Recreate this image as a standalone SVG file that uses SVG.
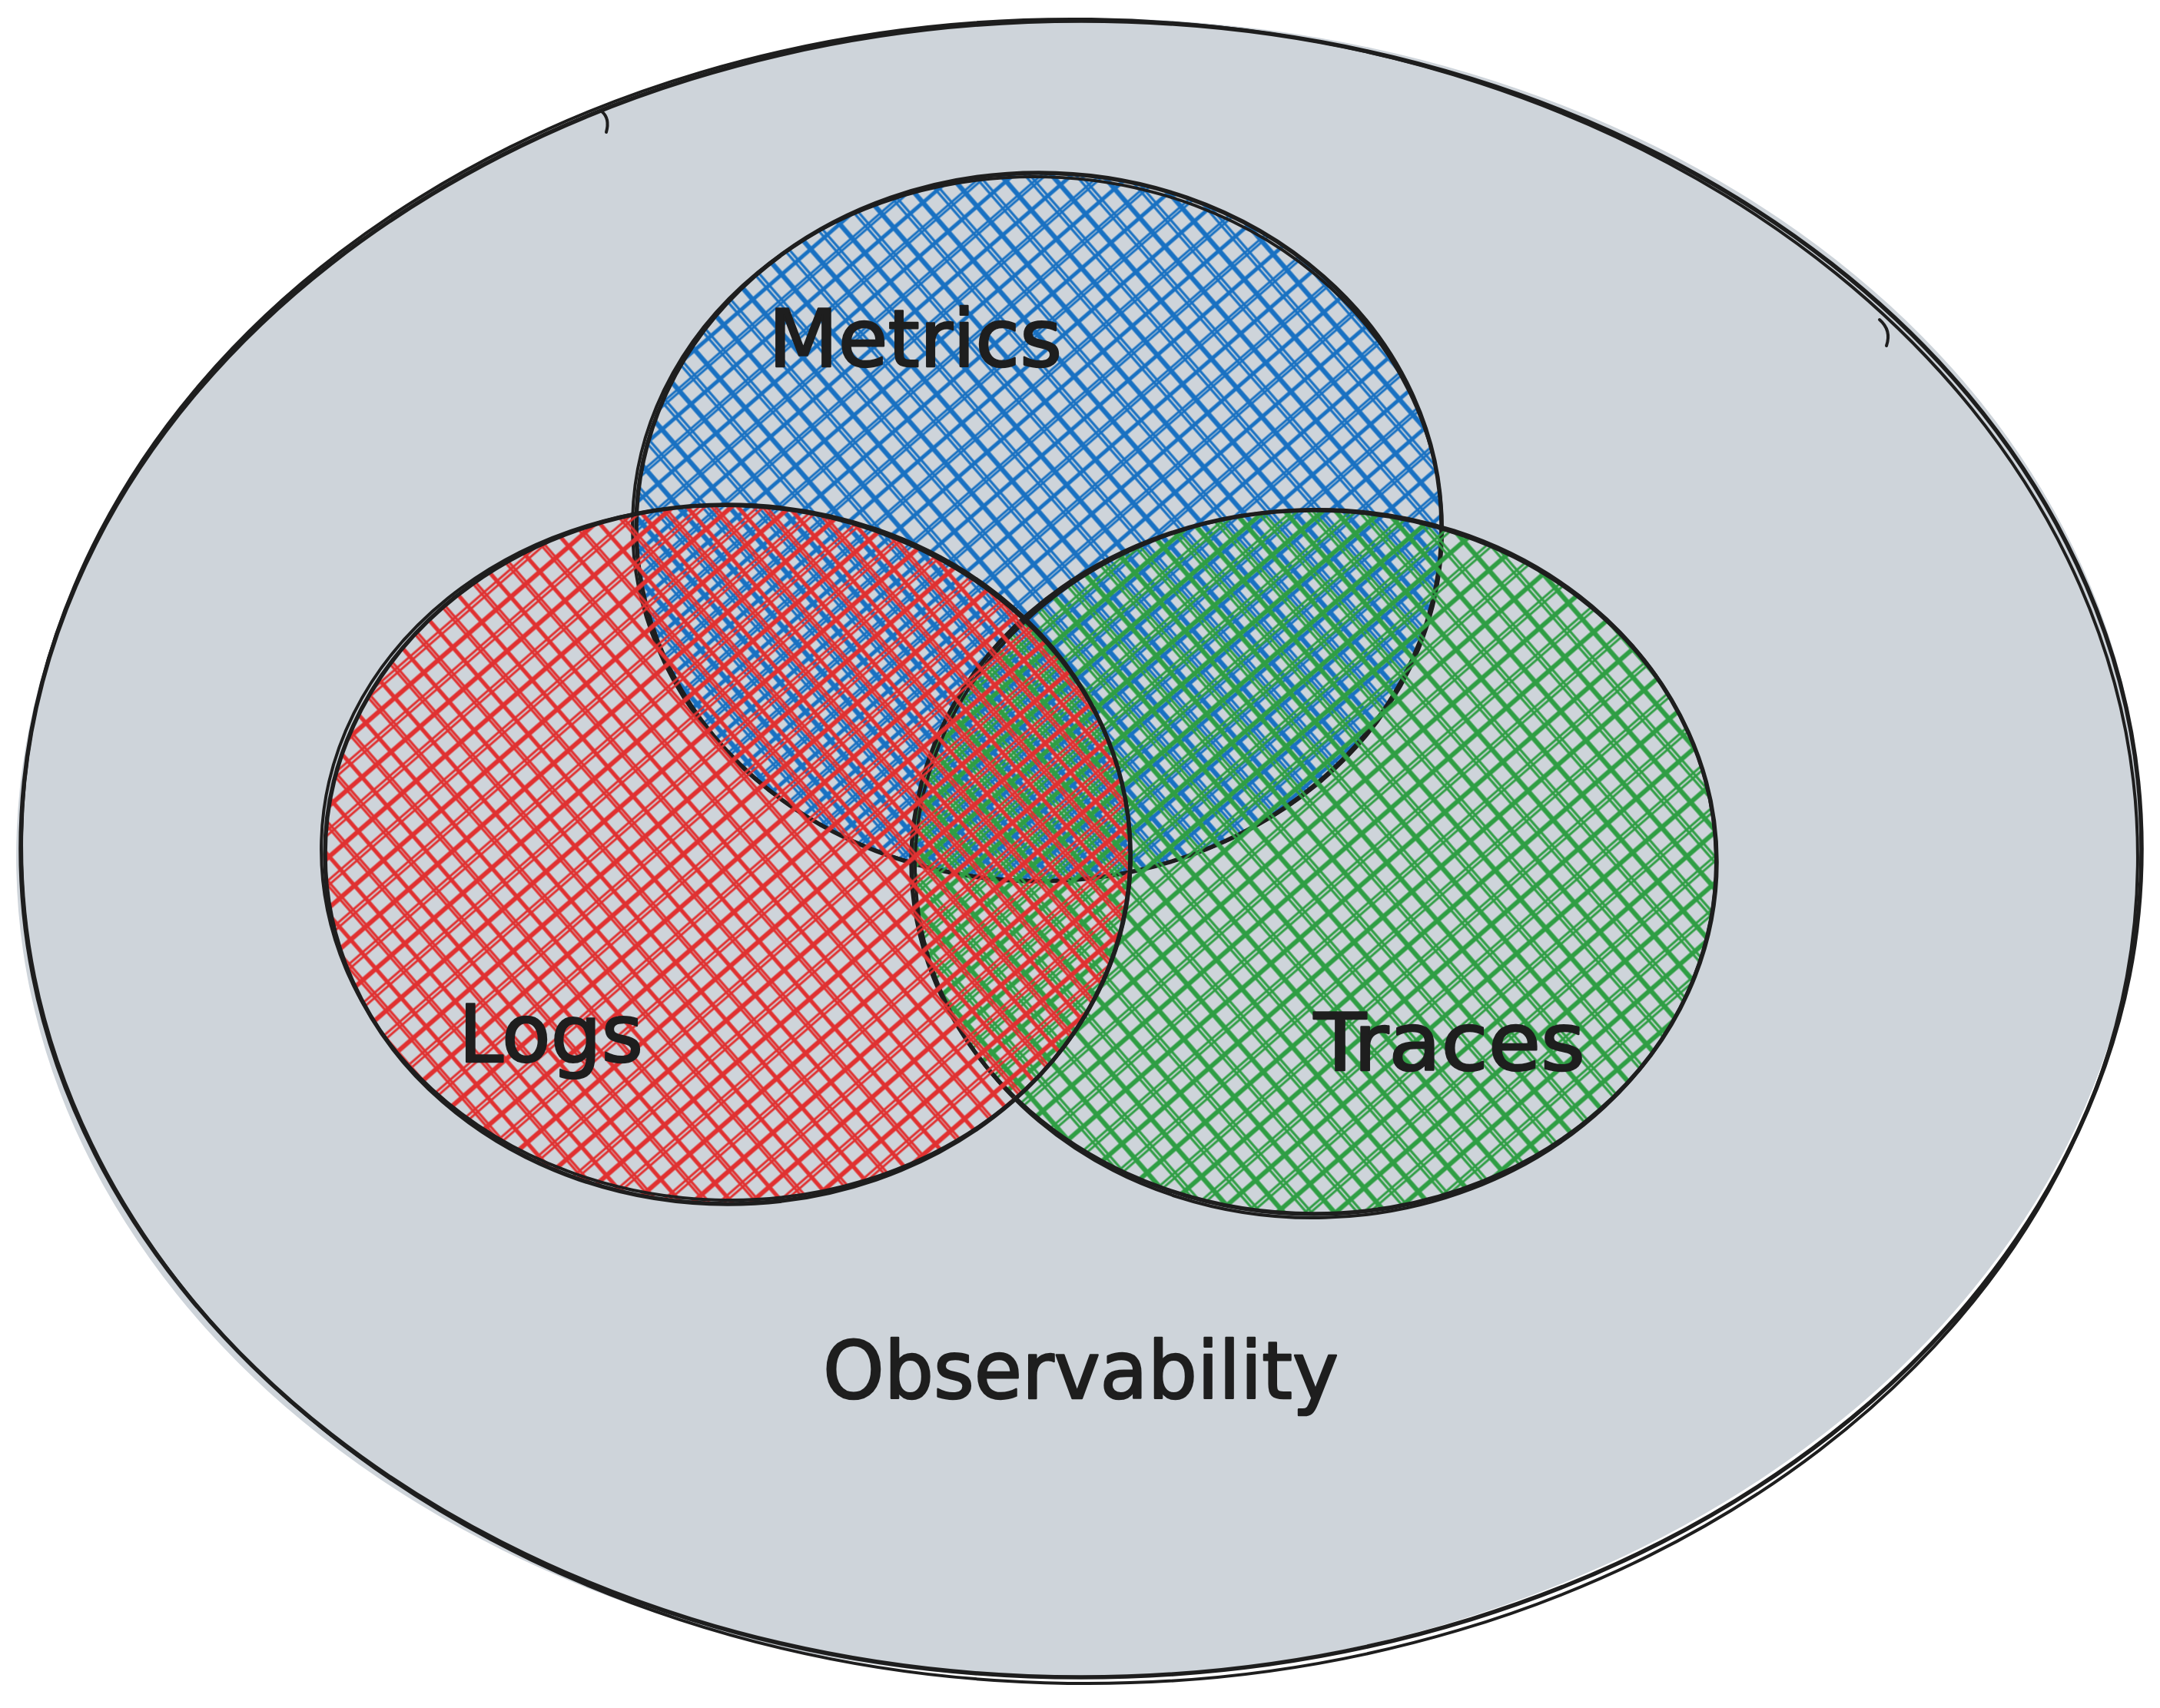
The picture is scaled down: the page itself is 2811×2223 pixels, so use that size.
<svg xmlns="http://www.w3.org/2000/svg" width="2811" height="2223" viewBox="0 0 2811 2223">
<style>
.outline{fill:none;stroke:#1e1e1e;stroke-width:5.5;stroke-linecap:round}
.thin{fill:none;stroke:#1e1e1e;stroke-width:4;stroke-linecap:round}
.label{font-family:"DejaVu Sans","Liberation Sans",sans-serif;font-size:104px;fill:#1e1e1e;stroke:#1e1e1e;stroke-width:2.5;stroke-linejoin:round}
.hb{stroke:#1971c2;stroke-width:3.2;fill:none}
.hr{stroke:#e03131;stroke-width:3.2;fill:none}
.hg{stroke:#2f9e44;stroke-width:3.2;fill:none}
</style>
<defs>
<pattern id="hatchBlue" patternUnits="userSpaceOnUse" width="50" height="50" patternTransform="rotate(-41) translate(5 9)">
<path class="hb" d="M-2 2H52M-2 6H52M-2 27H52M-2 29H52M2 -2V52M7 -2V52M27 -2V52M30 -2V52"/>
</pattern>
<pattern id="hatchRed" patternUnits="userSpaceOnUse" width="50" height="50" patternTransform="rotate(-41) translate(14 19)">
<path class="hr" d="M-2 2H52M-2 5H52M-2 26H52M-2 31H52M2 -2V52M6 -2V52M27 -2V52M29 -2V52"/>
</pattern>
<pattern id="hatchGreen" patternUnits="userSpaceOnUse" width="50" height="50" patternTransform="rotate(-41) translate(22 3)">
<path class="hg" d="M-2 2H52M-2 7H52M-2 27H52M-2 30H52M2 -2V52M5 -2V52M26 -2V52M31 -2V52"/>
</pattern>
<clipPath id="clipBlue"><ellipse cx="1352" cy="686" rx="524" ry="461"/></clipPath>
<clipPath id="clipRed"><ellipse cx="947" cy="1112" rx="524" ry="455"/></clipPath>
<clipPath id="clipGreen"><ellipse cx="1710" cy="1122" rx="524" ry="458"/></clipPath>
</defs>

<g id="observability">
<ellipse cx="1404" cy="1104" rx="1383" ry="1080" fill="#ced4da" transform="rotate(-1.2 1404 1104)"/>
<ellipse class="outline" cx="1407" cy="1105" rx="1380" ry="1078"/>
<ellipse class="thin" cx="1405" cy="1108" rx="1377" ry="1083" transform="rotate(0.8 1405 1108)"/>
<path class="thin" d="M 783 145 Q 794 154 789 172"/>
<path class="thin" d="M 2446 416 Q 2462 430 2455 450"/>
<text class="label" x="1071" y="1820" textLength="671" lengthAdjust="spacingAndGlyphs">Observability</text>
</g>

<g id="metrics">
<rect x="820" y="215" width="1070" height="940" fill="url(#hatchBlue)" clip-path="url(#clipBlue)"/>
<ellipse class="outline" cx="1352" cy="686" rx="524" ry="461"/>
<ellipse class="thin" cx="1350" cy="688" rx="527" ry="458" transform="rotate(1.5 1350 688)"/>
<text class="label" x="1000" y="477" textLength="382" lengthAdjust="spacingAndGlyphs">Metrics</text>
</g>

<g id="traces">
<rect x="1180" y="655" width="1065" height="935" fill="url(#hatchGreen)" clip-path="url(#clipGreen)"/>
<ellipse class="outline" cx="1710" cy="1122" rx="524" ry="458"/>
<ellipse class="thin" cx="1712" cy="1124" rx="521" ry="461" transform="rotate(-1.5 1712 1124)"/>
<text class="label" x="1710" y="1393" textLength="353" lengthAdjust="spacingAndGlyphs">Traces</text>
</g>

<g id="logs">
<rect x="415" y="650" width="1065" height="925" fill="url(#hatchRed)" clip-path="url(#clipRed)"/>
<ellipse class="outline" cx="947" cy="1112" rx="524" ry="455"/>
<ellipse class="thin" cx="945" cy="1110" rx="527" ry="452" transform="rotate(1.8 945 1110)"/>
<text class="label" x="597" y="1382" textLength="240" lengthAdjust="spacingAndGlyphs">Logs</text>
</g>

<g id="connectors"/>
</svg>
